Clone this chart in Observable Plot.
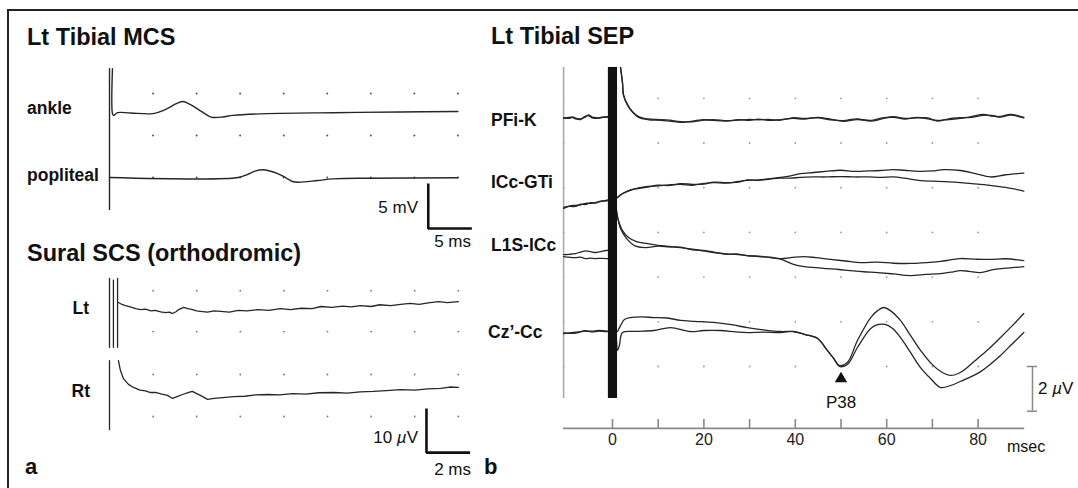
<!DOCTYPE html>
<html><head><meta charset="utf-8">
<script src="https://cdn.jsdelivr.net/npm/d3@7"></script>
<script src="https://cdn.jsdelivr.net/npm/@observablehq/plot@0.6"></script>
<style>
body{margin:0;background:#fff;}
#fig{position:relative;width:1078px;height:488px;overflow:hidden;font-family:"Liberation Sans",Arial,Helvetica,sans-serif;color:#111;background:#fff;}
.lbl{position:absolute;white-space:nowrap;line-height:1;}
#frame{position:absolute;left:7px;top:9px;width:1100px;height:500px;border-top:2px solid #222;border-left:2px solid #222;}
</style></head><body><div id="fig"><div id="frame"></div></div>
<script>
// ---------- Panel a (top): Lt Tibial MCS — time (ms), amplitude (mV, relative to channel baseline)
const mcsChannels = ["ankle", "popliteal"];
const mcsBaselines = [7.33, 0];
const mcsAnkleT = [0.34, 0.34, 0.46, 0.92, 2.4, 5.0, 6.4, 7.6, 8.4, 9.3, 10.4, 11.4, 11.9, 13.0, 14.2, 18.1, 25.7, 33.4, 40];
const mcsAnkleV = [4.77, -0.23, -0.43, -0.13, -0.16, -0.23, 0.22, 0.84, 1.11, 0.77, 0.11, -0.5, -0.66, -0.61, -0.43, -0.23, -0.13, -0.05, 0];
const mcsPopT = [0, 14.8, 15.8, 16.7, 17.6, 18.5, 19.3, 20.2, 21.0, 21.7, 23.9, 25.7, 30, 40];
const mcsPopV = [0, 0, 0.33, 0.7, 0.86, 0.7, 0.44, 0.0, -0.44, -0.52, -0.33, -0.15, -0.08, -0.03];
const mcsGridT = [5, 10, 15, 20, 25, 30, 35, 40];
const mcsGridV = [0, 4.67, 9.33];
const mcsStim = {t: 0, top: 12.1, bottom: -3.67};
const mcsBar = {t0: 36.6, v0: -5.67, dt: 5, dv: 5};

// ---------- Panel a (bottom): Sural SCS — time (ms), amplitude (µV, relative to channel baseline)
const suralChannels = ["Lt", "Rt"];
const suralBaselines = [24, 5];
const suralLtT = [0.41, 0.6, 0.73, 0.95, 1.2, 1.42, 1.65, 1.9, 2.1, 2.35, 2.57, 2.75, 2.89, 3.05, 3.17, 3.4, 3.6, 3.8, 4.0, 4.17, 4.5, 4.8, 5.1, 5.5, 5.9, 6.3, 6.8, 7.3, 7.84, 8.3, 8.8, 9.3, 9.7, 10.2, 10.7, 11.1, 11.5, 12, 12.4, 12.9, 13.35, 13.8, 14.2, 14.7, 15.1, 15.5, 16];
const suralLtV = [1.9, 1.4, 1.2, 0.9, 0.5, 0.3, 0.4, 0.0, 0.1, -0.2, -0.4, -0.3, -0.6, -0.2, 0.3, 0.8, 0.5, 0.3, 0.0, -0.1, -0.3, 0.0, -0.1, -0.3, 0.1, 0.0, 0.3, 0.1, 0.5, 0.3, 0.6, 0.5, 1.0, 0.8, 1.1, 0.9, 1.2, 1.0, 1.4, 1.2, 1.5, 1.7, 1.5, 1.9, 2.1, 1.9, 2.1];
const suralRtT = [0.41, 0.5, 0.64, 0.87, 1.1, 1.4, 1.65, 1.88, 2.1, 2.4, 2.66, 2.89, 3.1, 3.35, 3.6, 3.8, 4.0, 4.17, 4.35, 4.5, 4.8, 5.2, 5.7, 6.2, 6.7, 7.25, 7.8, 8.4, 9, 9.6, 10.3, 10.9, 11.5, 12.1, 12.7, 13.35, 14, 14.6, 15.2, 15.6, 16];
const suralRtV = [7.7, 5.5, 3.6, 2.3, 1.6, 1.0, 0.8, 0.45, 0.5, 0.1, -0.2, -0.9, -0.5, 0.0, 0.4, 0.7, 0.2, -0.2, -0.7, -1.1, -0.9, -0.7, -0.5, -0.4, -0.1, 0.0, -0.1, 0.2, 0.1, 0.4, 0.45, 0.3, 0.6, 0.7, 0.9, 1.1, 1.0, 1.3, 1.4, 1.7, 1.6];
const suralGridT = [2, 4, 6, 8, 10, 12, 14, 16];
const suralGridV = [0, 9.55, 19.3, 28.6];
const suralArtifacts = [
  {t: 0, top: 31.4, bottom: 15.5}, {t: 0.18, top: 31.0, bottom: 15.5}, {t: 0.37, top: 31.4, bottom: 15.5},
  {t: 0, top: 12.7, bottom: -3.2}
];
const suralBar = {t0: 14.54, v0: -8.2, dt: 2, dv: 10};

// ---------- Panel b: Lt Tibial SEP — time (ms), amplitude (µV, relative to channel baseline)
const sepChannels = ["PFi-K", "ICc-GTi", "L1S-ICc", "Cz’-Cc"];
const sepBaselines = [11.1, 7.43, 4.92, 1.52];
// PFi-K
const pfiPreT = [-10.7, -9.5, -8.75, -7.9, -7, -6.1, -5.25, -4.4, -3.5, -2.6, -1.75, -0.9];
const pfiPreA = [0.0, 0.05, 0.04, -0.03, -0.05, 0.08, 0.12, 0.02, 0.0, 0.05, 0.05, 0.06];
const pfiPreB = [0.03, 0.0, 0.07, 0.0, -0.02, 0.04, 0.16, 0.06, 0.03, 0.02, 0.07, 0.08];
const pfiPostT = [1.75, 2.19, 2.4, 3.3, 4.4, 5.7, 7.66, 10.5, 12.5, 14.9, 17.5, 20, 22.1, 25, 27.5, 29.5, 32, 34.5, 36.8, 39.6, 42, 44.9, 47.5, 50.5, 53.5, 56.5, 59, 61.5, 64, 66.7, 69, 71.1, 73.5, 76.1, 78.5, 81.2, 83, 84.9, 87.1, 90];
const pfiPostA = [2.28, 1.57, 1.03, 0.58, 0.27, 0.05, -0.05, -0.09, -0.12, -0.18, -0.12, -0.05, -0.09, -0.12, -0.05, -0.09, -0.03, -0.09, -0.05, 0.0, -0.03, 0.05, -0.02, -0.13, -0.05, -0.09, 0.02, 0.05, -0.03, 0.05, -0.02, -0.09, -0.05, 0.0, 0.08, 0.18, 0.1, 0.09, 0.18, 0.05];
const pfiPostB = [2.28, 1.6, 1.08, 0.62, 0.3, 0.08, -0.02, -0.05, -0.08, -0.14, -0.15, -0.08, -0.05, -0.1, -0.08, -0.05, -0.06, -0.05, -0.08, 0.03, 0.0, 0.02, -0.06, -0.1, -0.02, -0.12, -0.02, 0.08, 0.0, 0.02, 0.02, -0.12, -0.02, 0.03, 0.05, 0.14, 0.13, 0.06, 0.15, 0.02];
// ICc-GTi
const iccPreT = [-10.7, -9.5, -8.1, -7, -5.9, -4.8, -3.7, -2.6, -1.5, -0.9];
const iccPreA = [-0.31, -0.25, -0.22, -0.2, -0.13, -0.13, -0.09, -0.05, 0, 0.02];
const iccPreB = [-0.36, -0.27, -0.27, -0.17, -0.18, -0.1, -0.12, -0.03, -0.03, 0];
const iccPostT = [1.1, 2.2, 3.9, 5.5, 7.7, 10, 12.5, 14.9, 17.5, 20, 22.1, 25, 27.5, 29.5, 32, 34.5, 36.8, 39, 41.1, 44, 46.7, 49.9, 53, 56, 58.6, 61.5, 63.8, 67, 70, 72.5, 76.1, 79.4, 82.7, 86, 90];
const iccPostA = [0.13, 0.31, 0.45, 0.55, 0.63, 0.65, 0.7, 0.72, 0.68, 0.76, 0.8, 0.78, 0.85, 0.9, 0.92, 0.98, 1.03, 1.1, 1.2, 1.25, 1.3, 1.35, 1.3, 1.32, 1.34, 1.38, 1.35, 1.3, 1.32, 1.38, 1.34, 1.2, 1.05, 1.15, 1.22];
const iccPostB = [0.13, 0.3, 0.47, 0.53, 0.6, 0.68, 0.67, 0.75, 0.72, 0.73, 0.82, 0.8, 0.82, 0.92, 0.9, 0.96, 1.0, 1.0, 1.03, 1.05, 1.05, 1.07, 1.05, 1.05, 1.03, 1.05, 1.0, 0.9, 0.86, 0.84, 0.8, 0.74, 0.67, 0.58, 0.42];
// L1S-ICc
const l1sPreT = [-10.7, -9.5, -8.1, -7, -5.9, -4.8, -3.7, -2.6, -1.5, -0.9];
const l1sPreA = [0.09, 0.1, 0.13, 0.2, 0.25, 0.22, 0.18, 0.22, 0.27, 0.27];
const l1sPreB = [0.0, -0.03, -0.05, -0.03, -0.09, -0.07, -0.09, -0.08, -0.09, -0.09];
const l1sPostAT = [0.44, 1.3, 2.2, 3.5, 5.25, 7.7, 10, 12.5, 14.9, 17.5, 20, 22.1, 25, 27.5, 29.5, 32, 34.5, 36.8, 39, 41.8, 44.5, 47.7, 51, 54.3, 58, 61.5, 65.2, 68.5, 71.8, 74, 76.1, 79.5, 82.7, 86, 90];
const l1sPostA = [2.28, 1.61, 1.16, 0.85, 0.67, 0.58, 0.5, 0.45, 0.4, 0.33, 0.25, 0.18, 0.12, 0.09, 0.045, 0.0, -0.03, -0.09, -0.05, 0.0, -0.05, -0.13, -0.2, -0.27, -0.25, -0.3, -0.31, -0.27, -0.22, -0.15, -0.09, -0.12, -0.13, -0.1, -0.18];
const l1sPostBT = [0.9, 1.75, 3.1, 4.8, 7.2, 10, 12.5, 14.9, 17.5, 20, 22.1, 25, 27.5, 29.5, 32, 34.5, 36.8, 39.6, 42, 44.5, 47, 49.5, 52, 55, 58, 61.5, 65.2, 68.5, 71.8, 74, 76.1, 78, 80.5, 83, 85, 87.5, 90];
const l1sPostB = [2.06, 1.25, 0.8, 0.49, 0.4, 0.47, 0.43, 0.42, 0.3, 0.27, 0.2, 0.1, 0.11, 0.03, 0.02, -0.05, -0.12, -0.35, -0.45, -0.5, -0.54, -0.58, -0.63, -0.68, -0.72, -0.78, -0.85, -0.8, -0.76, -0.7, -0.63, -0.66, -0.72, -0.6, -0.54, -0.5, -0.45];
// Cz'-Cc
const czPreT = [-10.7, -9, -7.5, -6, -4.5, -3, -1.5, -0.9];
const czPreA = [-0.045, 0.0, 0.03, 0.06, 0.06, 0.09, 0.07, 0.05];
const czPreB = [-0.02, -0.04, 0.0, 0.08, 0.03, 0.06, 0.04, 0.05];
const czPostAT = [1.1, 1.75, 2.6, 3.9, 6.5, 9, 12, 14.9, 18, 22.1, 26, 29.5, 33, 36.8, 39.6, 42.2, 44.9, 47, 48.4, 49.7, 51.4, 53.6, 56.5, 58, 59.3, 60.8, 63, 65.2, 67.4, 70.2, 72.2, 74, 76.1, 78, 79.9, 82.5, 84.9, 87.5, 90];
const czPostA = [0.045, 0.31, 0.58, 0.67, 0.7, 0.67, 0.65, 0.54, 0.5, 0.45, 0.35, 0.22, 0.12, 0.045, 0.045, -0.09, -0.27, -0.8, -1.16, -1.48, -1.34, -0.36, 0.67, 0.98, 1.12, 0.98, 0.54, -0.13, -0.8, -1.48, -1.79, -1.92, -1.79, -1.5, -1.16, -0.7, -0.22, 0.31, 0.85];
const czPostBT = [0.9, 1.1, 1.5, 2.2, 5, 9, 12.7, 17, 20, 23.6, 27, 29.5, 33, 36.8, 39.6, 42.2, 44.9, 47, 48.4, 49.7, 51.4, 53.6, 56.5, 58.2, 59.7, 61.3, 63, 65.2, 67.4, 69.6, 71.8, 74, 76.1, 79.9, 82.5, 84.9, 87.5, 90];
const czPostB = [-0.36, -0.8, -0.58, 0.0, 0.05, 0.09, 0.22, 0.045, 0.09, 0.09, 0.03, 0.0, 0.02, 0.0, 0.045, -0.09, -0.27, -0.8, -1.16, -1.52, -1.43, -0.67, 0.18, 0.36, 0.36, 0.18, -0.22, -0.89, -1.57, -2.06, -2.46, -2.37, -2.19, -1.83, -1.45, -1.03, -0.5, 0.0];

const sepGridT = [-10.7, 10, 20, 30, 40, 50, 60, 70, 80];
const sepGridV = [0, 2, 4, 6, 8, 10, 12];
const sepTicks = [0, 10, 20, 30, 40, 50, 60, 70, 80];
const sepTickLabels = [0, 20, 40, 60, 80];
const sepFrame = {left: -10.7, right: 90.2, top: 13.38, bottom: -1.43, axis: -2.77, tick: 0.4};
const sepStim = {t1: -0.9, t2: 1.1};
const sepPeak = {t: 50, v: -0.55, label: "P38", labelV: -1.61};
const sepBar = {t: 91.9, v0: 0, dv: -2, cap: 1.1};

// ---------- helpers
const W = 1078, H = 488;
const fig = document.getElementById("fig");
const style = {position: "absolute", left: "0px", top: "0px", background: "transparent", overflow: "visible", maxWidth: "none",
  fontFamily: '"Liberation Sans", Arial, Helvetica, sans-serif', color: "#111"};
const series = (ts, vs, base, id) => ts.map((t, i) => ({t, v: base + vs[i], id}));
const grid = (ts, vs) => ts.flatMap(t => vs.map(v => ({t, v})));
const barPath = b => [{t: b.t0, v: b.v0 + b.dv}, {t: b.t0, v: b.v0}, {t: b.t0 + b.dt, v: b.v0}];
const traceColor = "#262626";

// ---------- Panel a top
const mcsData = [
  ...series(mcsAnkleT, mcsAnkleV, mcsBaselines[0], mcsChannels[0]),
  ...series(mcsPopT, mcsPopV, mcsBaselines[1], mcsChannels[1])
];
fig.append(Plot.plot({
  width: W, height: H, style,
  x: {domain: [0, 40], range: [109, 457.4], axis: null},
  y: {domain: [-5, 10], range: [222, 87], axis: null},
  marks: [
    Plot.dot(grid(mcsGridT, mcsGridV), {x: "t", y: "v", r: 1, fill: "#555", stroke: null}),
    Plot.ruleX([mcsStim], {x: "t", y1: "bottom", y2: "top", stroke: traceColor, strokeWidth: 1.4}),
    Plot.line(mcsData, {x: "t", y: "v", z: "id", stroke: traceColor, strokeWidth: 1.4, curve: "catmull-rom"}),
    Plot.line(barPath(mcsBar), {x: "t", y: "v", stroke: "#111", strokeWidth: 2.6, strokeLinejoin: "miter", strokeLinecap: "butt"})
  ]
}));

// ---------- Panel a bottom
const suralData = [
  ...series(suralLtT, suralLtV, suralBaselines[0], suralChannels[0]),
  ...series(suralRtT, suralRtV, suralBaselines[1], suralChannels[1])
];
fig.append(Plot.plot({
  width: W, height: H, style,
  x: {domain: [0, 16], range: [109, 457.8], axis: null},
  y: {domain: [-10, 30], range: [460, 284], axis: null},
  marks: [
    Plot.dot(grid(suralGridT, suralGridV), {x: "t", y: "v", r: 0.9, fill: "#777", stroke: null}),
    Plot.ruleX(suralArtifacts, {x: "t", y1: "bottom", y2: "top", stroke: traceColor, strokeWidth: 1.3}),
    Plot.line(suralData, {x: "t", y: "v", z: "id", stroke: traceColor, strokeWidth: 1.3}),
    Plot.line(barPath(suralBar), {x: "t", y: "v", stroke: "#111", strokeWidth: 2.6, strokeLinejoin: "miter", strokeLinecap: "butt"})
  ]
}));

// ---------- Panel b
const sepData = [
  ...series(pfiPreT, pfiPreA, sepBaselines[0], "pfi-pa"), ...series(pfiPreT, pfiPreB, sepBaselines[0], "pfi-pb"),
  ...series(pfiPostT, pfiPostA, sepBaselines[0], "pfi-a"), ...series(pfiPostT, pfiPostB, sepBaselines[0], "pfi-b"),
  ...series(iccPreT, iccPreA, sepBaselines[1], "icc-pa"), ...series(iccPreT, iccPreB, sepBaselines[1], "icc-pb"),
  ...series(iccPostT, iccPostA, sepBaselines[1], "icc-a"), ...series(iccPostT, iccPostB, sepBaselines[1], "icc-b"),
  ...series(l1sPreT, l1sPreA, sepBaselines[2], "l1s-pa"), ...series(l1sPreT, l1sPreB, sepBaselines[2], "l1s-pb"),
  ...series(l1sPostAT, l1sPostA, sepBaselines[2], "l1s-a"), ...series(l1sPostBT, l1sPostB, sepBaselines[2], "l1s-b"),
  ...series(czPreT, czPreA, sepBaselines[3], "cz-pa"), ...series(czPreT, czPreB, sepBaselines[3], "cz-pb"),
  ...series(czPostAT, czPostA, sepBaselines[3], "cz-a"), ...series(czPostBT, czPostB, sepBaselines[3], "cz-b")
];
fig.append(Plot.plot({
  width: W, height: H, marginBottom: H - 428, style: {...style, fontSize: "16px"},
  x: {domain: [0, 80], range: [612, 977.6]},
  y: {domain: [0, 12], range: [366, 97.8], axis: null},
  marks: [
    Plot.dot(grid(sepGridT, sepGridV), {x: "t", y: "v", r: 0.9, fill: "#999", stroke: null}),
    Plot.ruleX([sepFrame], {x: "left", y1: "bottom", y2: "top", stroke: "#aaa", strokeWidth: 1.6}),
    Plot.ruleY([sepFrame], {y: "axis", x1: "left", x2: "right", stroke: "#888", strokeWidth: 1.6}),
    Plot.ruleX(sepTicks, {x: d => d, y1: () => sepFrame.axis, y2: () => sepFrame.axis + sepFrame.tick, stroke: "#888", strokeWidth: 1.6}),
    Plot.axisX({ticks: sepTickLabels, tickSize: 0, tickPadding: 5, fontSize: 16, label: null, tickFormat: d => String(d), fill: "#222"}),
    Plot.line(sepData, {x: "t", y: "v", z: "id", stroke: traceColor, strokeWidth: 1.3, curve: "catmull-rom"}),
    Plot.rect([{...sepStim, ...sepFrame}], {x1: "t1", x2: "t2", y1: "bottom", y2: "top", fill: "#111"}),
    Plot.dot([sepPeak], {x: "t", y: "v", symbol: "triangle", r: 4.6, fill: "#111", stroke: null}),
    Plot.text([sepPeak], {x: "t", y: "labelV", text: "label", fontSize: 17, fill: "#111"}),
    Plot.ruleX([sepBar], {x: "t", y1: "v0", y2: d => d.v0 + d.dv, stroke: "#888", strokeWidth: 1.5}),
    Plot.ruleY([sepBar.v0, sepBar.v0 + sepBar.dv], {y: d => d, x1: () => sepBar.t - sepBar.cap, x2: () => sepBar.t + sepBar.cap, stroke: "#888", strokeWidth: 1.5})
  ]
}));

// ---------- text
function label(html, x, baseline, size, bold, align) {
  const d = document.createElement("div");
  d.className = "lbl";
  d.innerHTML = html;
  d.style.fontSize = size + "px";
  d.style.fontWeight = bold ? "bold" : "normal";
  d.style.top = (baseline - 0.8465 * size) + "px";
  if (align === "right") d.style.right = (W - x) + "px"; else d.style.left = x + "px";
  fig.append(d);
}
label("Lt Tibial MCS", 27, 46, 23.5, true);
label("ankle", 27, 115, 17.5, true);
label("popliteal", 27, 182, 17.5, true);
label("5 mV", 418, 213, 17, false, "right");
label("5 ms", 471, 247, 17, false, "right");
label("Sural SCS (orthodromic)", 27, 262, 23.5, true);
label("Lt", 89, 315, 17.5, true, "right");
label("Rt", 90, 398, 17.5, true, "right");
label("10 <i>µ</i>V", 418, 443, 17, false, "right");
label("2 ms", 471, 475, 17, false, "right");
label("a", 25, 475, 22, true);
label("Lt Tibial SEP", 491, 45, 23.5, true);
label(sepChannels[0], 491, 127, 17.5, true);
label(sepChannels[1], 491, 189, 17.5, true);
label(sepChannels[2], 491, 252, 17.5, true);
label(sepChannels[3], 488, 339, 17.5, true);
label("b", 484, 475, 22, true);
label("msec", 1007, 453, 16, false);
label("2 <i>µ</i>V", 1038, 394, 17, false);
</script></body></html>
